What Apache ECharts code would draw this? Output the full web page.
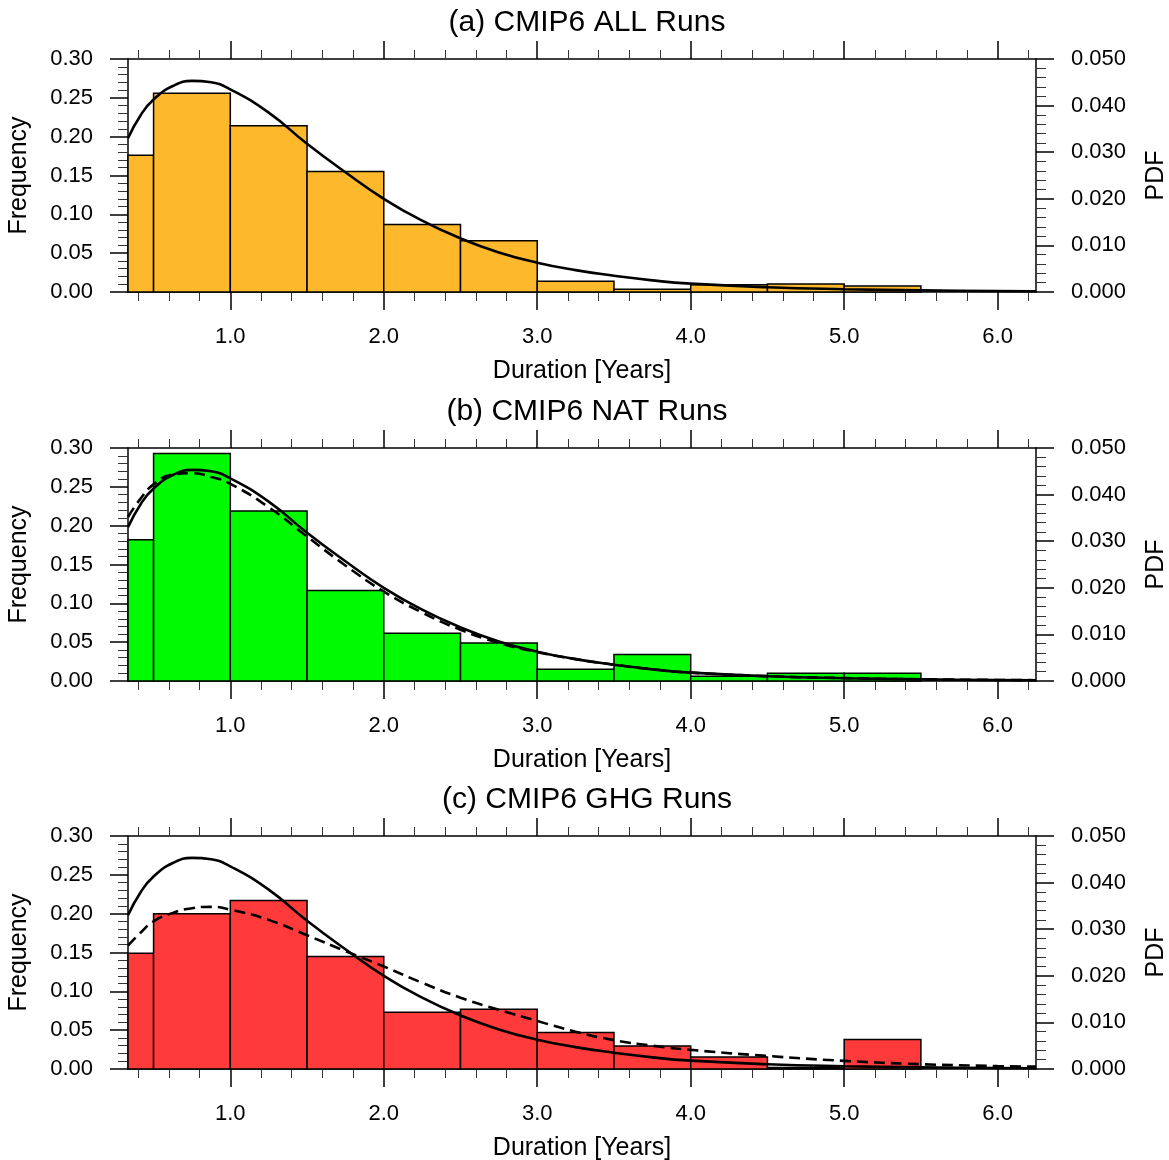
<!DOCTYPE html>
<html>
<head>
<meta charset="utf-8">
<script src="https://cdn.jsdelivr.net/npm/echarts@6/dist/echarts.min.js"></script>
<style>
html,body{margin:0;padding:0;background:#fff;}
#chart{width:1169px;height:1160px;}
</style>
</head>
<body>
<div id="chart"></div>
<script>
// ---------------- DATA ----------------
const xMin = 4 / 12;   // 4 months
const xMax = 75 / 12;  // 75 months
const binEdges = [4 / 12, 0.5, 1.0, 1.5, 2.0, 2.5, 3.0, 3.5, 4.0, 4.5, 5.0, 5.5];

const freqALL = [0.176, 0.256, 0.214, 0.155, 0.087, 0.066, 0.014, 0.0034, 0.0094, 0.0103, 0.0077];
const freqNAT = [0.182, 0.293, 0.219, 0.1165, 0.0615, 0.049, 0.015, 0.034, 0.006, 0.010, 0.010];
const freqGHG = [0.149, 0.200, 0.217, 0.145, 0.073, 0.077, 0.047, 0.0296, 0.0155, 0.002, 0.038];

const pdfX = [4 / 12, 5 / 12, 0.5, 0.625, 0.75, 0.875, 1.0, 1.25, 1.5, 1.75, 2.0, 2.25, 2.5, 2.75, 3.0, 3.25, 3.5, 3.75, 4.0, 4.5, 5.0, 5.5, 6.0, 75 / 12];
const pdfALL = [0.0330, 0.0380, 0.0413, 0.0442, 0.0453, 0.0450, 0.0435, 0.0385, 0.0318, 0.0257, 0.0200, 0.0153, 0.0115, 0.0085, 0.0063, 0.0047, 0.0035, 0.0025, 0.0018, 0.00103, 0.0006, 0.00035, 0.0002, 0.00015];
const pdfNAT = [0.0352, 0.0392, 0.0422, 0.0443, 0.0446, 0.0438, 0.0423, 0.0373, 0.0310, 0.0248, 0.0192, 0.0147, 0.0110, 0.0082, 0.0062, 0.0047, 0.0035, 0.0025, 0.0018, 0.00105, 0.00062, 0.00037, 0.00022, 0.00017];
const pdfGHG = [0.0265, 0.0293, 0.0317, 0.0335, 0.0345, 0.0348, 0.0342, 0.0320, 0.0287, 0.0253, 0.0220, 0.0185, 0.0153, 0.0127, 0.0103, 0.0080, 0.0062, 0.0050, 0.0041, 0.0028, 0.00175, 0.00103, 0.00063, 0.0005];

const xMajorTicks = [1, 2, 3, 4, 5, 6];
const xMinorTicks = [0.4, 0.6, 0.8, 1.2, 1.4, 1.6, 1.8, 2.2, 2.4, 2.6, 2.8, 3.2, 3.4, 3.6, 3.8, 4.2, 4.4, 4.6, 4.8, 5.2, 5.4, 5.6, 5.8, 6.2];

const panelTitles = ['(a) CMIP6 ALL Runs', '(b) CMIP6 NAT Runs', '(c) CMIP6 GHG Runs'];
const panelColors = ['#FDB92B', '#00FA00', '#FF3A3A'];
const panelFreq = [freqALL, freqNAT, freqGHG];
const panelDashed = [null, pdfNAT, pdfGHG];

// ---------------- LAYOUT ----------------
const gridTops = [59, 448, 836];
const gridH = 233;
const gridLeft = 128;
const gridRight = 1169 - 1036;
const FONT = 'Liberation Sans, Arial, Helvetica, sans-serif';

const option = {
  backgroundColor: '#fff',
  animation: false,
  title: [],
  grid: [],
  xAxis: [],
  yAxis: [],
  series: []
};

function xAxisBase(gi) {
  return {
    type: 'value', gridIndex: gi, min: xMin, max: xMax,
    splitLine: { show: false },
    axisLine: { show: false, lineStyle: { color: '#000', width: 1.5 } },
    axisLabel: { show: false },
    axisTick: { show: false }
  };
}

for (let p = 0; p < 3; p++) {
  const top = gridTops[p];
  option.title.push({
    text: panelTitles[p], left: 582, top: top - 56, textAlign: 'center',
    textStyle: { fontFamily: FONT, fontSize: 30, fontWeight: 'normal', color: '#000' }
  });
  option.grid.push({ left: gridLeft, right: gridRight, top: top, height: gridH, containLabel: false, outerBoundsMode: 'none' });

  const xi = option.xAxis.length;
  const xb = xAxisBase(p);
  Object.assign(xb, {
    position: 'bottom',
    axisLine: { show: true, lineStyle: { color: '#000', width: 1.5 } },
    axisTick: { show: true, customValues: xMajorTicks, length: 18, lineStyle: { color: '#000', width: 1.5 } },
    axisLabel: { show: true, customValues: xMajorTicks, margin: 34, formatter: v => v.toFixed(1),
      fontFamily: FONT, fontSize: 22, color: '#000' },
    name: 'Duration [Years]', nameLocation: 'middle', nameGap: 67,
    nameTextStyle: { fontFamily: FONT, fontSize: 25, color: '#000' }
  });
  option.xAxis.push(xb);
  const xbm = xAxisBase(p);
  Object.assign(xbm, { position: 'bottom',
    axisTick: { show: true, customValues: xMinorTicks, length: 9, lineStyle: { color: '#333', width: 1 } } });
  option.xAxis.push(xbm);
  const xt = xAxisBase(p);
  Object.assign(xt, { position: 'top',
    axisLine: { show: true, lineStyle: { color: '#000', width: 1.5 } },
    axisTick: { show: true, customValues: xMajorTicks, length: 18, lineStyle: { color: '#000', width: 1.5 } } });
  option.xAxis.push(xt);
  const xtm = xAxisBase(p);
  Object.assign(xtm, { position: 'top',
    axisTick: { show: true, customValues: xMinorTicks, length: 9, lineStyle: { color: '#333', width: 1 } } });
  option.xAxis.push(xtm);

  const yi = option.yAxis.length;
  option.yAxis.push({
    type: 'value', gridIndex: p, position: 'left', min: 0, max: 0.30, interval: 0.05,
    splitLine: { show: false },
    axisLine: { show: true, lineStyle: { color: '#000', width: 1.5 } },
    axisTick: { show: true, length: 18, lineStyle: { color: '#000', width: 1.5 } },
    minorTick: { show: true, splitNumber: 5, length: 10, lineStyle: { color: '#333', width: 1 } },
    axisLabel: { margin: 35, formatter: v => v.toFixed(2), fontFamily: FONT, fontSize: 22, color: '#000' },
    name: 'Frequency', nameLocation: 'middle', nameGap: 96,
    nameTextStyle: { fontFamily: FONT, fontSize: 25, color: '#000' }
  });
  option.yAxis.push({
    type: 'value', gridIndex: p, position: 'right', min: 0, max: 0.05, interval: 0.01,
    splitLine: { show: false },
    axisLine: { show: true, lineStyle: { color: '#000', width: 1.5 } },
    axisTick: { show: true, length: 18, lineStyle: { color: '#000', width: 1.5 } },
    minorTick: { show: true, splitNumber: 5, length: 10, lineStyle: { color: '#333', width: 1 } },
    axisLabel: { margin: 35, formatter: v => v.toFixed(3), fontFamily: FONT, fontSize: 22, color: '#000' },
    name: 'PDF', nameLocation: 'middle', nameGap: 108,
    nameTextStyle: { fontFamily: FONT, fontSize: 25, color: '#000' }
  });

  const color = panelColors[p];
  const binData = panelFreq[p].map((v, i) => [binEdges[i], binEdges[i + 1], v]);
  option.series.push({
    type: 'custom', xAxisIndex: xi, yAxisIndex: yi, data: binData,
    encode: { x: [0, 1], y: 2 }, z: 2,
    renderItem: function (params, api) {
      const p0 = api.coord([api.value(0), api.value(2)]);
      const p1 = api.coord([api.value(1), 0]);
      return { type: 'rect',
        shape: { x: p0[0], y: p0[1], width: p1[0] - p0[0], height: p1[1] - p0[1] },
        style: { fill: color, stroke: '#000', lineWidth: 1.5 } };
    }
  });
  option.series.push({
    type: 'line', xAxisIndex: xi, yAxisIndex: yi + 1, z: 5,
    data: pdfX.map((x, i) => [x, pdfALL[i]]), smooth: 0.5, showSymbol: false,
    lineStyle: { color: '#000', width: 2.6 }
  });
  if (panelDashed[p]) {
    const d = panelDashed[p];
    option.series.push({
      type: 'line', xAxisIndex: xi, yAxisIndex: yi + 1, z: 5,
      data: pdfX.map((x, i) => [x, d[i]]), smooth: 0.5, showSymbol: false,
      lineStyle: { color: '#000', width: 2.6, type: [11, 6] }
    });
  }
}

const chart = echarts.init(document.getElementById('chart'), null, { renderer: 'canvas' });
chart.setOption(option);
</script>
</body>
</html>
